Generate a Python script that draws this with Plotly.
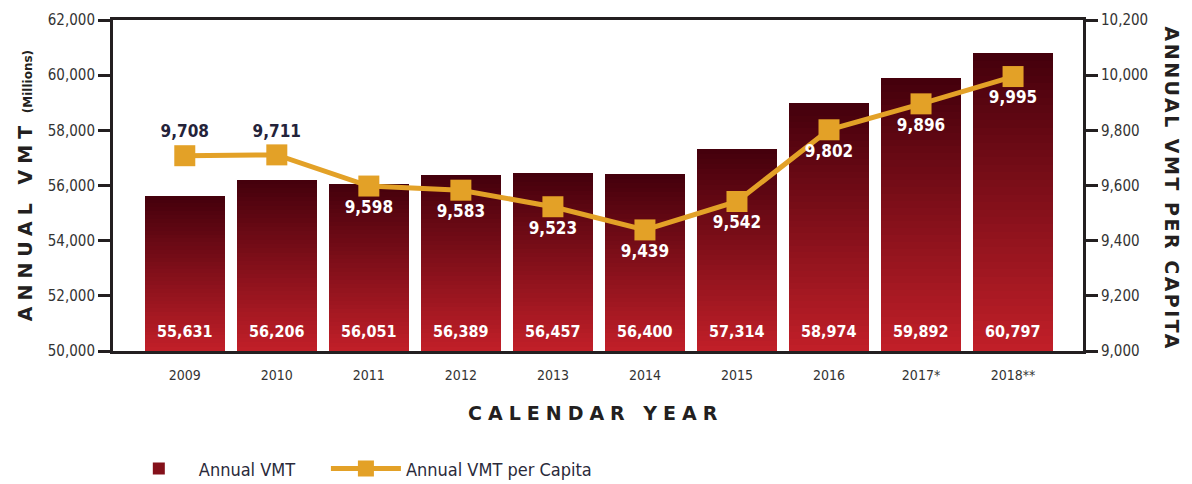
import plotly.graph_objects as go

years = ["2009", "2010", "2011", "2012", "2013", "2014", "2015", "2016", "2017*", "2018**"]
annual_vmt = [55631, 56206, 56051, 56389, 56457, 56400, 57314, 58974, 59892, 60797]
vmt_per_capita = [9708, 9711, 9598, 9583, 9523, 9439, 9542, 9802, 9896, 9995]

vmt_range = [50000, 62000]
vmt_ticks = [50000, 52000, 54000, 56000, 58000, 60000, 62000]
capita_range = [9000, 10200]
capita_ticks = [9000, 9200, 9400, 9600, 9800, 10000, 10200]

NARROW = "DejaVu Sans Condensed, Liberation Sans Narrow, Arial Narrow, sans-serif"
HEAVY = "DejaVu Sans, Arial Black, sans-serif"
TOP_RGB = (69, 0, 12)
BOTTOM_RGB = (192, 31, 40)
GOLD = "#E3A127"
AXIS = "#231f20"


def mix(a, b, t):
    return "rgb(%d,%d,%d)" % tuple(round(a[i] + (b[i] - a[i]) * t) for i in range(3))


fig = go.Figure()

# bars are drawn as overlaid slices, each shorter and redder, to fake a vertical gradient
steps = 40
heights = [v - vmt_range[0] for v in annual_vmt]
for k in range(steps):
    frac = 1 - k / steps
    fig.add_trace(
        go.Bar(
            x=years,
            y=[h * frac for h in heights],
            base=vmt_range[0],
            width=0.87,
            marker=dict(color=mix(TOP_RGB, BOTTOM_RGB, k / (steps - 1)), line=dict(width=0)),
            # trailing no-break spaces push the second legend entry to the right
            name="Annual VMT" + "\u00a0" * 5,
            showlegend=(k == steps // 2),
            hoverinfo="skip",
        )
    )

label_pos = ["top center" if i < 2 else "bottom center" for i in range(len(years))]
label_col = ["#24233a" if i < 2 else "white" for i in range(len(years))]
fig.add_trace(
    go.Scatter(
        x=years,
        y=vmt_per_capita,
        yaxis="y2",
        mode="lines+markers+text",
        name="Annual VMT per Capita",
        line=dict(color=GOLD, width=5),
        marker=dict(symbol="square", size=21, color=GOLD),
        text=[f"{v:,}" for v in vmt_per_capita],
        textposition=label_pos,
        textfont=dict(family=NARROW, size=17, color=label_col, weight="bold"),
        cliponaxis=False,
    )
)

# category index keeps "2009" etc. from being read as a number
annotations = [
    dict(
        x=i, y=vmt_range[0], xref="x", yref="y",
        text=f"{v:,}", showarrow=False, yanchor="bottom", yshift=8,
        font=dict(family=NARROW, size=16, color="white", weight="bold"),
    )
    for i, v in enumerate(annual_vmt)
]
annotations += [
    dict(
        x=-0.091, y=0.5, xref="paper", yref="paper", textangle=-90, showarrow=False,
        xanchor="center", yanchor="middle",
        text='<span style="letter-spacing:6px">ANNUAL VMT</span> '
             '<span style="font-size:12px">(Millions)</span>',
        font=dict(family=HEAVY, size=19, color=AXIS, weight="bold"),
    ),
    dict(
        x=1.092, y=0.49, xref="paper", yref="paper", textangle=90, showarrow=False,
        xanchor="center", yanchor="middle",
        text='<span style="letter-spacing:2.5px">ANNUAL VMT PER CAPITA</span>',
        font=dict(family=HEAVY, size=19, color=AXIS, weight="bold"),
    ),
    dict(
        x=0.497, y=-0.187, xref="paper", yref="paper", showarrow=False,
        xanchor="center", yanchor="middle",
        text='<span style="letter-spacing:6px">CALENDAR YEAR</span>',
        font=dict(family=HEAVY, size=19, color=AXIS, weight="bold"),
    ),
]

fig.update_layout(
    width=1192,
    height=484,
    margin=dict(l=113, r=109, t=20, b=133, autoexpand=False),
    plot_bgcolor="white",
    paper_bgcolor="white",
    barmode="overlay",
    bargap=0,
    annotations=annotations,
    legend=dict(
        orientation="h", x=0.006, y=-0.30, xanchor="left", yanchor="top",
        font=dict(family=NARROW, size=18, color="#2a2a3a"),
        itemwidth=70, tracegroupgap=0,
    ),
    xaxis=dict(
        range=[-0.78, 9.76], showgrid=False, showline=True, linecolor=AXIS, linewidth=3,
        mirror=True, ticks="", ticklabelstandoff=9, automargin=False,
        tickfont=dict(family=NARROW, size=14, color="#333"),
    ),
    yaxis=dict(
        range=vmt_range, tickvals=vmt_ticks, tickformat=",d", showgrid=False,
        showline=True, linecolor=AXIS, linewidth=3, ticks="outside", ticklen=12,
        tickwidth=3, tickcolor=AXIS, zeroline=False, automargin=False,
        tickfont=dict(family=NARROW, size=15, color="#333"),
    ),
    yaxis2=dict(
        range=capita_range, tickvals=capita_ticks, tickformat=",d", overlaying="y",
        side="right", showgrid=False, showline=True, linecolor=AXIS, linewidth=3,
        ticks="outside", ticklen=12, tickwidth=3, tickcolor=AXIS, zeroline=False,
        automargin=False, tickfont=dict(family=NARROW, size=15, color="#333"),
    ),
)

# the page body has a default margin; drop it so the figure fills the window
fig.write_html(
    "out.html",
    config={"displayModeBar": False},
    post_script="document.body.style.margin='0px';",
)
